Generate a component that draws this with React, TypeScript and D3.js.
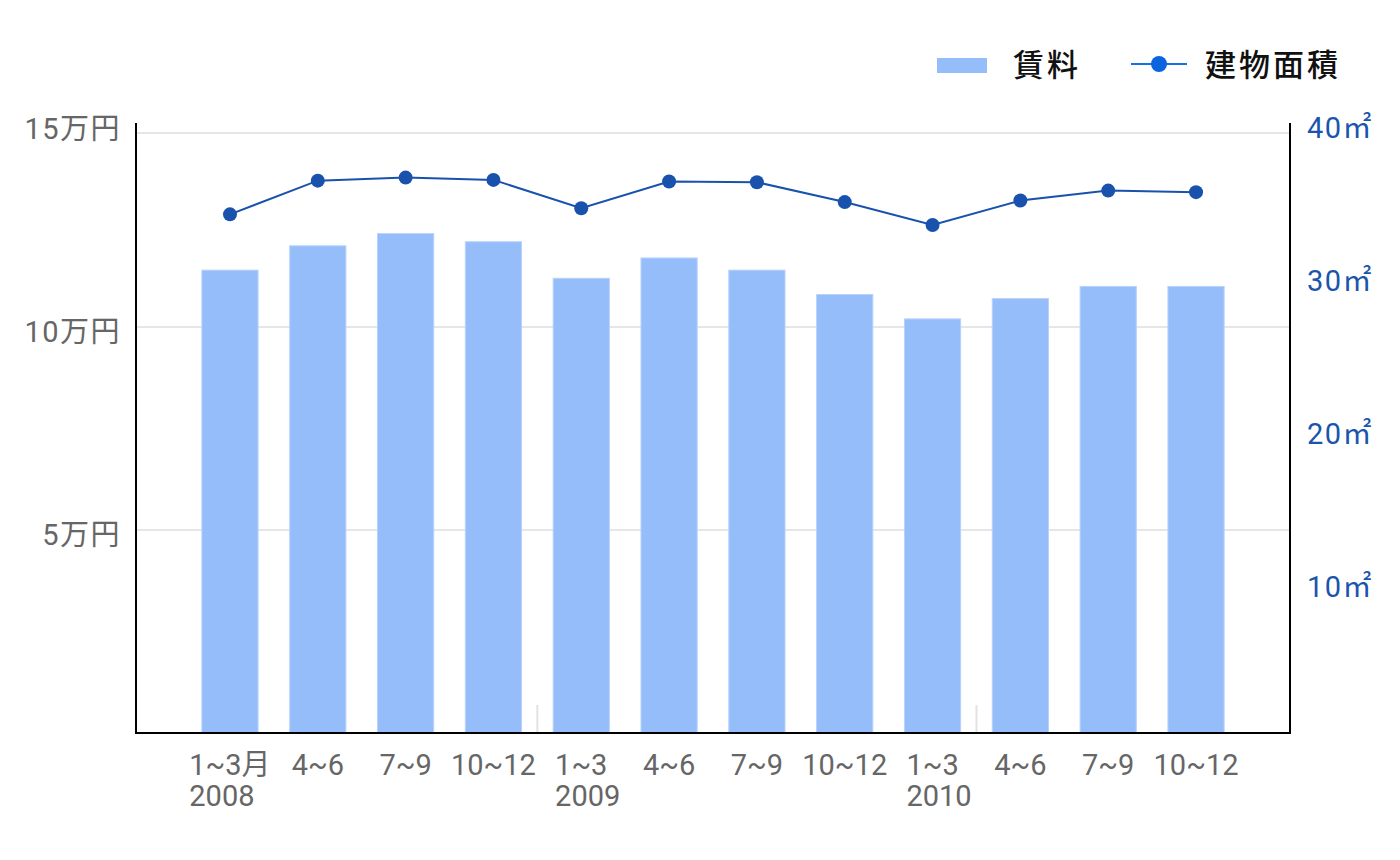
import React, { useEffect, useRef } from 'react';
import * as d3 from 'd3';

const quarters = ['1~3月', '4~6', '7~9', '10~12', '1~3', '4~6', '7~9', '10~12', '1~3', '4~6', '7~9', '10~12'];
const years = ['2008', '', '', '', '2009', '', '', '', '2010', '', '', ''];
const rent = [11.4, 12.0, 12.3, 12.1, 11.2, 11.7, 11.4, 10.8, 10.2, 10.7, 11.0, 11.0];
const area = [33.9, 36.1, 36.3, 36.15, 34.3, 36.05, 36.0, 34.7, 33.2, 34.8, 35.45, 35.35];
const separatorsAfter = [3, 8];
const leftTicks = [5, 10, 15];
const rightTicks = [10, 20, 30, 40];
const seriesNames = ['賃料', '建物面積'];

const W = 1400;
const H = 860;
const FONT = "Roboto, 'Noto Sans CJK JP', sans-serif";

const App: React.FC = () => {
  const svgRef = useRef<SVGSVGElement>(null);

  useEffect(() => {
    if (!svgRef.current) return;
    const svg = d3.select(svgRef.current);
    svg.selectAll('*').remove();

    const left = 136;
    const right = 1290;
    const bottom = 733;
    const axisTop = 123;
    const gridTop = 133;

    const x = d3.scaleBand<number>()
      .domain(d3.range(quarters.length))
      .range([left, right])
      .paddingInner(0.36)
      .paddingOuter(0.75);

    const yL = d3.scaleLinear().domain([0, 15]).range([bottom, 124]);
    const yR = d3.scaleLinear().domain([0, 40]).range([bottom, 121]);

    // grid
    const grid = svg.append('g');
    grid.selectAll('line.g')
      .data(leftTicks.filter(t => t < 15))
      .join('line')
      .attr('x1', left).attr('x2', right)
      .attr('y1', d => yL(d)).attr('y2', d => yL(d))
      .attr('stroke', '#e6e6e6').attr('stroke-width', 2);
    grid.append('line')
      .attr('x1', left).attr('x2', right)
      .attr('y1', gridTop).attr('y2', gridTop)
      .attr('stroke', '#e6e6e6').attr('stroke-width', 2);

    // separators
    const step = x.step();
    separatorsAfter.forEach(i => {
      const sx = (x(i) || 0) + x.bandwidth() + (step - x.bandwidth()) / 2;
      svg.append('line')
        .attr('x1', sx).attr('x2', sx)
        .attr('y1', bottom - 28).attr('y2', bottom)
        .attr('stroke', '#e2e2e2').attr('stroke-width', 2);
    });

    // bars
    svg.append('g').selectAll('rect')
      .data(rent)
      .join('rect')
      .attr('x', (_, i) => x(i) || 0)
      .attr('y', d => yL(d))
      .attr('width', x.bandwidth())
      .attr('height', d => bottom - yL(d))
      .attr('fill', '#95bdfa')
      .attr('stroke', '#b8d2fb')
      .attr('stroke-width', 1);

    // line
    const cx = (i: number) => (x(i) || 0) + x.bandwidth() / 2;
    const line = d3.line<number>().x((_, i) => cx(i)).y(d => yR(d));
    svg.append('path')
      .datum(area)
      .attr('d', line)
      .attr('fill', 'none')
      .attr('stroke', '#1952ad')
      .attr('stroke-width', 2);
    svg.append('g').selectAll('circle')
      .data(area)
      .join('circle')
      .attr('cx', (_, i) => cx(i))
      .attr('cy', d => yR(d))
      .attr('r', 7)
      .attr('fill', '#1952ad');

    // axes lines
    svg.append('line')
      .attr('x1', left).attr('x2', left).attr('y1', axisTop).attr('y2', bottom + 1)
      .attr('stroke', '#000').attr('stroke-width', 2);
    svg.append('line')
      .attr('x1', right).attr('x2', right).attr('y1', axisTop).attr('y2', bottom + 1)
      .attr('stroke', '#000').attr('stroke-width', 2);
    svg.append('line')
      .attr('x1', left - 1).attr('x2', right + 1).attr('y1', bottom).attr('y2', bottom)
      .attr('stroke', '#000').attr('stroke-width', 2);

    // left tick labels
    svg.append('g').selectAll('text')
      .data(leftTicks)
      .join('text')
      .attr('x', 121)
      .attr('y', d => yL(d) + 15)
      .attr('text-anchor', 'end')
      .attr('font-family', FONT)
      .attr('font-size', 29)
      .attr('letter-spacing', 1.5)
      .attr('fill', '#666')
      .text(d => `${d}万円`);

    // right tick labels
    svg.append('g').selectAll('text')
      .data(rightTicks)
      .join('text')
      .attr('x', 1307)
      .attr('y', d => yR(d) + 17)
      .attr('font-family', FONT)
      .attr('font-size', 29)
      .attr('letter-spacing', 1.5)
      .attr('fill', '#1a55ad')
      .text(d => `${d}㎡`);

    // x labels
    const xl = svg.append('g');
    quarters.forEach((q, i) => {
      const t = xl.append('text')
        .attr('x', cx(i))
        .attr('y', 775)
        .attr('text-anchor', 'middle')
        .attr('font-family', FONT)
        .attr('font-size', 29)
        .attr('fill', '#666')
        .text(q);
      if (years[i]) {
        const bb = (t.node() as SVGTextElement).getBBox();
        xl.append('text')
          .attr('x', bb.x)
          .attr('y', 806)
          .attr('font-family', FONT)
          .attr('font-size', 29)
          .attr('fill', '#666')
          .text(years[i]);
      }
    });

    // legend
    const lg = svg.append('g');
    lg.append('rect')
      .attr('x', 937).attr('y', 58).attr('width', 50).attr('height', 15)
      .attr('fill', '#95bdfa');
    lg.append('text')
      .attr('x', 1013).attr('y', 76)
      .attr('font-family', "'Noto Sans CJK JP', sans-serif")
      .attr('font-size', 31)
      .attr('font-weight', 500)
      .attr('letter-spacing', 3)
      .attr('fill', '#111')
      .text(seriesNames[0]);
    lg.append('line')
      .attr('x1', 1131).attr('x2', 1187).attr('y1', 64).attr('y2', 64)
      .attr('stroke', '#1a6fe3').attr('stroke-width', 2);
    lg.append('circle')
      .attr('cx', 1159).attr('cy', 64).attr('r', 8)
      .attr('fill', '#0b63e0');
    lg.append('text')
      .attr('x', 1205).attr('y', 76)
      .attr('font-family', "'Noto Sans CJK JP', sans-serif")
      .attr('font-size', 31)
      .attr('font-weight', 500)
      .attr('letter-spacing', 3)
      .attr('fill', '#111')
      .text(seriesNames[1]);
  }, []);

  return (
    <div style={{ position: 'absolute', left: 0, top: 0, width: W, height: H, background: '#fff' }}>
      <svg ref={svgRef} width={W} height={H} viewBox={`0 0 ${W} ${H}`} style={{ display: 'block' }} />
    </div>
  );
};

export default App;
